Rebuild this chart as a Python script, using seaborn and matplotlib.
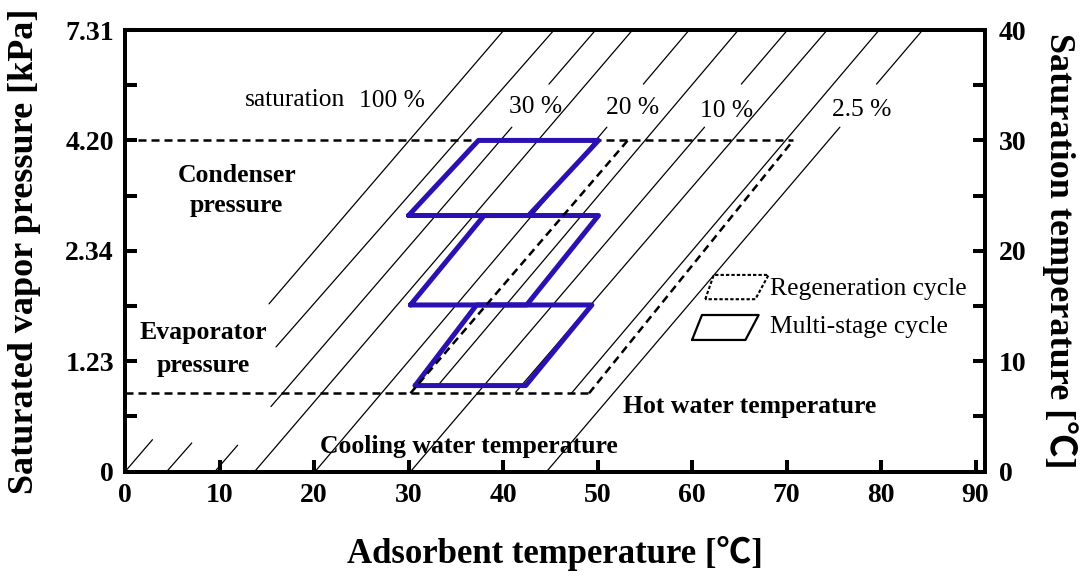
import matplotlib
matplotlib.use("Agg")
import matplotlib.pyplot as plt
import seaborn as sns
import pandas as pd

# ---------------- data ----------------
# isostere lines: adsorbent temperature at saturation temperature 0 and 40 degC
iso_x_bottom = [0.0, 4.4, 9.5, 13.7, 20.1, 25.4, 30.2, 34.1, 40.2, 44.6]
iso_x_top = [40.1, 45.4, 49.8, 53.7, 59.7, 64.9, 70.1, 74.3, 79.8, 84.4]
# visible pieces of each line (saturation temperature ranges)
iso_visible = [
    [(0, 2.9), (15.2, 40)],
    [(0, 2.6), (11.3, 40)],
    [(0, 2.4), (5.9, 31.2), (35.1, 40)],
    [(0, 40)],
    [(0, 31.2), (35.1, 40)],
    [(7.7, 40)],
    [(0, 31.2), (35.1, 40)],
    [(7.2, 40)],
    [(7.1, 40)],
    [(0, 31.2), (35.1, 40)],
]

condenser_T = 30.0
evaporator_T = 7.1
condenser_x_end = 70.7
evaporator_x_end = 49.1

# regeneration cycle (dashed) slanted sides
regen_left_x = [30.2, 53.2]
regen_left_y = [7.1, 30.0]
regen_right_x = [49.1, 70.7]
regen_right_y = [7.1, 30.0]

# multi-stage cycle (three stacked parallelograms)
stage_x = [[30.0, 37.4, 50.1, 42.7], [30.2, 38.0, 50.1, 42.5], [30.7, 37.2, 49.4, 42.4]]
stage_y = [[23.2, 30.0, 30.0, 23.2], [15.1, 23.2, 23.2, 15.1], [7.8, 15.1, 15.1, 7.8]]

x_ticks = [0, 10, 20, 30, 40, 50, 60, 70, 80, 90]
y_ticks = [0, 5, 10, 15, 20, 25, 30, 35, 40]
pressure_labels = ["0", "", "1.23", "", "2.34", "", "4.20", "", "7.31"]
sat_temp_labels = ["0", "", "10", "", "20", "", "30", "", "40"]

pct_labels = ["saturation", "100 %", "30 %", "20 %", "10 %", "2.5 %"]
region_labels = ["Condenser", "pressure", "Evaporator", "pressure",
                 "Cooling water temperature", "Hot water temperature"]
legend_labels = ["Regeneration cycle", "Multi-stage cycle"]

# ---------------- layout ----------------
pct_pos = [(18.0, 33.1), (28.2, 33.0), (43.4, 32.5), (53.7, 32.35), (63.7, 32.15), (77.9, 32.2)]
region_pos = [(11.9, 26.27), (11.8, 23.55), (8.3, 12.0), (8.3, 9.06), (36.4, 1.67), (66.1, 5.29)]
legend_text_pos = [(68.3, 16.0), (68.3, 12.55)]
icon_dashed = ([61.4, 62.3, 68.1, 66.7, 61.4], [15.62, 17.82, 17.82, 15.62, 15.62])
icon_solid = ([60.0, 61.05, 67.05, 65.65, 60.0], [11.93, 14.19, 14.19, 11.93, 11.93])

sns.set_style("white")
plt.rcParams["font.family"] = ["Liberation Serif", "Noto Sans CJK JP", "DejaVu Sans"]
plt.rcParams["text.color"] = "black"
plt.rcParams["axes.labelcolor"] = "black"
plt.rcParams["xtick.color"] = "black"
plt.rcParams["ytick.color"] = "black"
plt.rcParams["axes.edgecolor"] = "black"

fig = plt.figure(figsize=(10.85, 5.78), dpi=100)
ax = fig.add_axes([125 / 1085, 1 - 471.7 / 578, 860 / 1085, 441.7 / 578])

# isostere lines
rows = []
seg = 0
for a, t, pieces in zip(iso_x_bottom, iso_x_top, iso_visible):
    for y0, y1 in pieces:
        for yy in (y0, y1):
            rows.append({"x": a + (t - a) * yy / 40.0, "y": yy, "seg": seg})
        seg += 1
iso_df = pd.DataFrame(rows)
sns.lineplot(data=iso_df, x="x", y="y", units="seg", estimator=None, sort=False,
             color="black", lw=0.9, legend=False, ax=ax, zorder=2)

# condenser / evaporator pressure lines
dash = (0, (3.2, 2.0))
hdf = pd.DataFrame({"x": [0, condenser_x_end, 0, evaporator_x_end],
                    "y": [condenser_T, condenser_T, evaporator_T, evaporator_T],
                    "seg": [0, 0, 1, 1]})
sns.lineplot(data=hdf, x="x", y="y", units="seg", estimator=None, sort=False,
             color="black", lw=1.8, linestyle=dash, legend=False, ax=ax, zorder=3)

# multi-stage cycle
rows = []
for k, (xs, ys) in enumerate(zip(stage_x, stage_y)):
    for xx, yy in zip(xs + xs[:1], ys + ys[:1]):
        rows.append({"x": xx, "y": yy, "seg": k})
ms_df = pd.DataFrame(rows)
sns.lineplot(data=ms_df, x="x", y="y", units="seg", estimator=None, sort=False,
             color="#2a12b2", lw=3.6, legend=False, ax=ax, zorder=4)

# regeneration cycle slanted sides
sdf = pd.DataFrame({"x": regen_left_x + regen_right_x, "y": regen_left_y + regen_right_y,
                    "seg": [0, 0, 1, 1]})
sns.lineplot(data=sdf, x="x", y="y", units="seg", estimator=None, sort=False,
             color="black", lw=1.8, linestyle=dash, legend=False, ax=ax, zorder=5)

# legend icons
ax.plot(*icon_dashed, color="black", lw=1.5, linestyle=(0, (1.6, 1.0)), zorder=5)
ax.plot(*icon_solid, color="black", lw=1.6, zorder=5)

for s, (px, py) in zip(pct_labels, pct_pos):
    ax.text(px, py, s, fontsize=18.4, ha="center", va="baseline", color="black", zorder=6)
for s, (px, py) in zip(region_labels, region_pos):
    ax.text(px, py, s, fontsize=18.5, fontweight="bold", ha="center", va="baseline",
            color="black", zorder=6)
for s, (px, py) in zip(legend_labels, legend_text_pos):
    ax.text(px, py, s, fontsize=18.4, ha="left", va="baseline", color="black", zorder=6)

ax.set_xlim(0, 91)
ax.set_ylim(0, 40)
ax.set_xticks(x_ticks)
ax.set_xticklabels([str(v) for v in x_ticks])
ax.set_yticks(y_ticks)
ax.set_yticklabels(pressure_labels)

ax2 = ax.twinx()
ax2.set_ylim(0, 40)
ax2.set_yticks(y_ticks)
ax2.set_yticklabels(sat_temp_labels)

for a_ in (ax, ax2):
    for sp in a_.spines.values():
        sp.set_linewidth(2.8)
        sp.set_color("black")
        sp.set_visible(True)
ax.tick_params(axis="both", direction="in", length=8.5, width=2.9, labelsize=20, pad=8,
               colors="black", left=True, bottom=True, top=False, right=False)
ax2.tick_params(axis="y", direction="in", length=8.5, width=2.9, labelsize=20, pad=10,
                colors="black", right=True, left=False)
for lab in ax.get_xticklabels() + ax.get_yticklabels() + ax2.get_yticklabels():
    lab.set_fontweight("bold")
    lab.set_color("black")

ax.set_xlabel("Adsorbent temperature [℃]", fontsize=25, fontweight="bold", color="black")
ax.xaxis.label.set_va("center")
ax.xaxis.set_label_coords(0.5, (471.7 - 553) / 441.7)
ax.set_ylabel("Saturated vapor pressure [kPa]", fontsize=26, fontweight="bold", color="black")
ax.yaxis.label.set_va("center")
ax.yaxis.label.set_ha("center")
ax.yaxis.set_label_coords((25 - 125) / 860, 0.5)
ax2.set_ylabel("Saturation temperature [℃]", fontsize=26, fontweight="bold", rotation=-90,
               color="black")
ax2.yaxis.label.set_va("center")
ax2.yaxis.label.set_ha("center")
ax2.yaxis.set_label_coords((1060 - 125) / 860, 0.5)

fig.savefig("out.png", dpi=100, facecolor="white")
